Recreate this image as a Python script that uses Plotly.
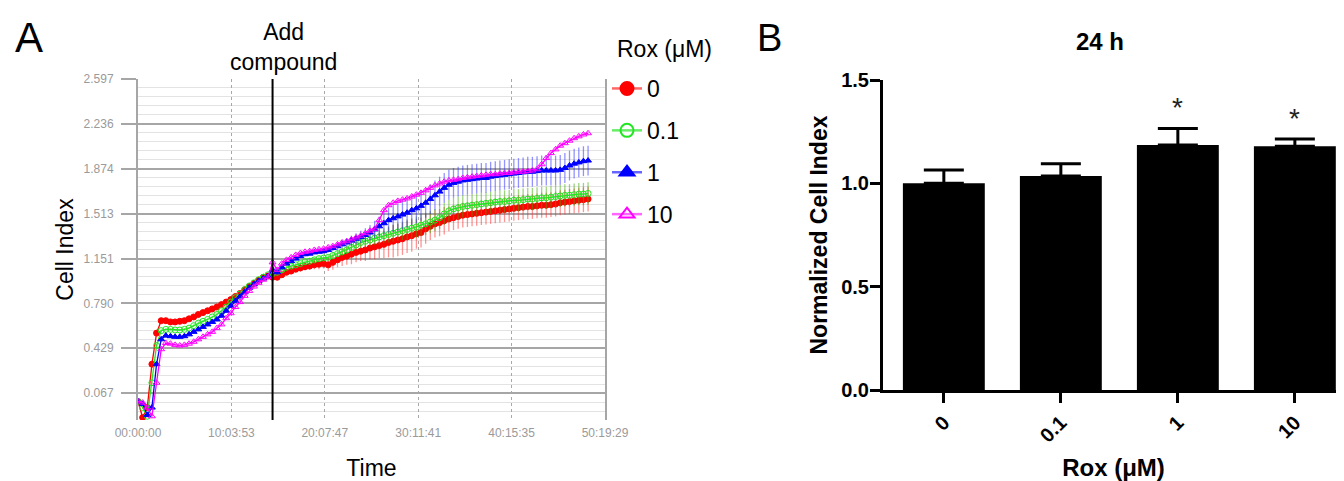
import plotly.graph_objects as go

# ---------------- Panel A data (real-time cell index) ----------------
TIME_H = [0.0, 0.5, 1.0, 1.5, 2.0, 2.5, 3.0, 3.5, 4.0, 4.5,
          5.0, 5.5, 6.0, 6.5, 7.0, 7.5, 8.0, 8.5, 9.0, 9.5,
          10.0, 10.5, 11.0, 11.5, 12.0, 12.5, 13.0, 13.5, 14.0, 14.5,
          15.0, 15.5, 16.0, 16.5, 17.0, 17.5, 18.0, 18.5, 19.0, 19.5,
          20.0, 20.5, 21.0, 21.5, 22.0, 22.5, 23.0, 23.5, 24.0, 24.5,
          25.0, 25.5, 26.0, 26.5, 27.0, 27.5, 28.0, 28.5, 29.0, 29.5,
          30.0, 30.5, 31.0, 31.5, 32.0, 32.5, 33.0, 33.5, 34.0, 34.5,
          35.0, 35.5, 36.0, 36.5, 37.0, 37.5, 38.0, 38.5, 39.0, 39.5,
          40.0, 40.5, 41.0, 41.5, 42.0, 42.5, 43.0, 43.5, 44.0, 44.5,
          45.0, 45.5, 46.0, 46.5, 47.0, 47.5, 48.0, 48.5]

CI_ROX_0 = [0.00, -0.13, -0.05, 0.30, 0.55, 0.65, 0.65, 0.64, 0.64, 0.645,
            0.65, 0.665, 0.68, 0.70, 0.715, 0.73, 0.745, 0.76, 0.78, 0.80,
            0.82, 0.845, 0.87, 0.90, 0.925, 0.95, 0.975, 1.00, 1.01, 1.00,
            1.00, 1.02, 1.04, 1.05, 1.065, 1.075, 1.085, 1.09, 1.10, 1.105,
            1.11, 1.10, 1.12, 1.14, 1.16, 1.17, 1.185, 1.20, 1.21, 1.22,
            1.235, 1.245, 1.255, 1.265, 1.28, 1.29, 1.30, 1.31, 1.325, 1.335,
            1.35, 1.36, 1.39, 1.41, 1.43, 1.44, 1.455, 1.47, 1.48, 1.49,
            1.50, 1.505, 1.51, 1.515, 1.52, 1.525, 1.53, 1.535, 1.54, 1.545,
            1.55, 1.555, 1.56, 1.565, 1.57, 1.57, 1.575, 1.58, 1.58, 1.585,
            1.59, 1.60, 1.605, 1.61, 1.615, 1.62, 1.625, 1.63]

CI_ROX_01 = [0.00, -0.05, -0.12, 0.15, 0.45, 0.57, 0.58, 0.58, 0.575, 0.575,
             0.58, 0.59, 0.61, 0.63, 0.645, 0.66, 0.68, 0.70, 0.73, 0.76,
             0.80, 0.835, 0.865, 0.90, 0.93, 0.955, 0.98, 1.00, 1.02, 1.03,
             1.04, 1.06, 1.08, 1.09, 1.10, 1.11, 1.125, 1.13, 1.14, 1.15,
             1.155, 1.16, 1.175, 1.19, 1.205, 1.22, 1.24, 1.26, 1.28, 1.29,
             1.30, 1.315, 1.325, 1.335, 1.345, 1.355, 1.365, 1.375, 1.385, 1.395,
             1.405, 1.42, 1.43, 1.445, 1.46, 1.48, 1.51, 1.535, 1.55, 1.56,
             1.57, 1.575, 1.58, 1.585, 1.59, 1.595, 1.60, 1.605, 1.61, 1.61,
             1.615, 1.62, 1.62, 1.625, 1.63, 1.63, 1.635, 1.64, 1.64, 1.645,
             1.65, 1.655, 1.66, 1.66, 1.665, 1.67, 1.67, 1.675]

CI_ROX_1 = [0.00, -0.02, -0.11, -0.05, 0.30, 0.50, 0.53, 0.525, 0.52, 0.52,
            0.525, 0.54, 0.56, 0.58, 0.60, 0.62, 0.64, 0.66, 0.69, 0.73,
            0.77, 0.81, 0.845, 0.88, 0.915, 0.945, 0.97, 0.99, 1.01, 1.06,
            1.04, 1.08, 1.11, 1.13, 1.15, 1.17, 1.185, 1.19, 1.20, 1.205,
            1.21, 1.22, 1.235, 1.25, 1.265, 1.28, 1.295, 1.31, 1.325, 1.34,
            1.36, 1.385, 1.41, 1.435, 1.46, 1.475, 1.49, 1.505, 1.52, 1.54,
            1.555, 1.575, 1.60, 1.63, 1.66, 1.69, 1.72, 1.745, 1.76, 1.77,
            1.78, 1.785, 1.79, 1.795, 1.80, 1.80, 1.81, 1.815, 1.82, 1.825,
            1.83, 1.835, 1.84, 1.845, 1.85, 1.85, 1.855, 1.86, 1.86, 1.86,
            1.86, 1.865, 1.88, 1.90, 1.915, 1.925, 1.935, 1.94]

CI_ROX_10 = [0.00, -0.01, -0.05, -0.12, 0.15, 0.42, 0.47, 0.465, 0.455, 0.45,
             0.455, 0.465, 0.48, 0.50, 0.52, 0.54, 0.56, 0.59, 0.62, 0.67,
             0.71, 0.76, 0.80, 0.85, 0.89, 0.925, 0.955, 0.98, 1.00, 1.12,
             1.06, 1.11, 1.14, 1.16, 1.18, 1.195, 1.205, 1.21, 1.22, 1.225,
             1.23, 1.24, 1.25, 1.265, 1.28, 1.29, 1.305, 1.32, 1.335, 1.355,
             1.375, 1.39, 1.46, 1.54, 1.58, 1.60, 1.615, 1.625, 1.635, 1.65,
             1.665, 1.68, 1.70, 1.72, 1.74, 1.755, 1.77, 1.78, 1.785, 1.79,
             1.80, 1.805, 1.81, 1.815, 1.82, 1.825, 1.83, 1.83, 1.835, 1.84,
             1.84, 1.845, 1.85, 1.85, 1.855, 1.86, 1.87, 1.91, 1.96, 2.00,
             2.03, 2.06, 2.08, 2.10, 2.12, 2.135, 2.15, 2.16]

SD_ROX_0 = [0.01, 0.01, 0.01, 0.01, 0.01, 0.01, 0.01, 0.01, 0.01, 0.01,
            0.01, 0.01, 0.01, 0.01, 0.01, 0.01, 0.01, 0.01, 0.01, 0.01,
            0.01, 0.01, 0.01, 0.01, 0.01, 0.01, 0.01, 0.015, 0.015, 0.02,
            0.02, 0.02, 0.02, 0.025, 0.025, 0.03, 0.03, 0.03, 0.035, 0.04,
            0.04, 0.05, 0.06, 0.06, 0.07, 0.07, 0.08, 0.08, 0.08, 0.09,
            0.09, 0.10, 0.10, 0.11, 0.12, 0.13, 0.13, 0.13, 0.13, 0.13,
            0.12, 0.12, 0.12, 0.11, 0.11, 0.11, 0.11, 0.10, 0.10, 0.10,
            0.10, 0.10, 0.10, 0.10, 0.10, 0.10, 0.10, 0.10, 0.10, 0.10,
            0.10, 0.10, 0.10, 0.10, 0.10, 0.10, 0.10, 0.10, 0.10, 0.10,
            0.10, 0.10, 0.10, 0.10, 0.10, 0.10, 0.10, 0.10]

SD_ROX_01 = [0.01, 0.01, 0.01, 0.01, 0.01, 0.01, 0.01, 0.01, 0.01, 0.01,
             0.01, 0.01, 0.01, 0.01, 0.01, 0.01, 0.01, 0.01, 0.01, 0.01,
             0.01, 0.01, 0.01, 0.01, 0.01, 0.01, 0.01, 0.01, 0.01, 0.015,
             0.015, 0.015, 0.015, 0.015, 0.015, 0.015, 0.015, 0.02, 0.02, 0.02,
             0.02, 0.02, 0.025, 0.03, 0.03, 0.035, 0.04, 0.04, 0.045, 0.05,
             0.05, 0.055, 0.06, 0.06, 0.065, 0.07, 0.07, 0.075, 0.08, 0.08,
             0.085, 0.09, 0.09, 0.09, 0.09, 0.09, 0.09, 0.09, 0.09, 0.09,
             0.09, 0.09, 0.09, 0.09, 0.09, 0.09, 0.09, 0.09, 0.09, 0.09,
             0.09, 0.09, 0.09, 0.09, 0.09, 0.09, 0.09, 0.09, 0.09, 0.09,
             0.09, 0.09, 0.09, 0.09, 0.09, 0.09, 0.09, 0.09]

SD_ROX_1 = [0.015, 0.015, 0.015, 0.015, 0.015, 0.015, 0.015, 0.015, 0.015, 0.015,
            0.015, 0.015, 0.015, 0.015, 0.015, 0.015, 0.015, 0.015, 0.015, 0.015,
            0.015, 0.015, 0.015, 0.015, 0.015, 0.015, 0.015, 0.015, 0.015, 0.015,
            0.015, 0.015, 0.015, 0.015, 0.015, 0.015, 0.015, 0.015, 0.015, 0.015,
            0.02, 0.02, 0.025, 0.03, 0.03, 0.035, 0.04, 0.045, 0.05, 0.055,
            0.06, 0.07, 0.08, 0.09, 0.10, 0.11, 0.12, 0.12, 0.12, 0.12,
            0.12, 0.12, 0.12, 0.12, 0.12, 0.12, 0.12, 0.12, 0.12, 0.12,
            0.12, 0.12, 0.12, 0.12, 0.12, 0.12, 0.12, 0.12, 0.12, 0.12,
            0.12, 0.12, 0.12, 0.12, 0.12, 0.12, 0.12, 0.12, 0.12, 0.12,
            0.12, 0.12, 0.12, 0.12, 0.12, 0.12, 0.12, 0.12]

SD_ROX_10 = [0.015, 0.015, 0.015, 0.015, 0.015, 0.015, 0.015, 0.015, 0.015, 0.015,
             0.015, 0.015, 0.015, 0.015, 0.015, 0.015, 0.015, 0.015, 0.015, 0.015,
             0.015, 0.015, 0.015, 0.015, 0.015, 0.015, 0.015, 0.015, 0.015, 0.015,
             0.015, 0.015, 0.015, 0.015, 0.015, 0.015, 0.015, 0.015, 0.015, 0.015,
             0.015, 0.015, 0.015, 0.015, 0.015, 0.015, 0.015, 0.015, 0.015, 0.015,
             0.015, 0.015, 0.015, 0.015, 0.015, 0.015, 0.015, 0.015, 0.015, 0.015,
             0.015, 0.015, 0.015, 0.015, 0.015, 0.015, 0.015, 0.015, 0.015, 0.015,
             0.015, 0.015, 0.015, 0.015, 0.015, 0.015, 0.015, 0.015, 0.015, 0.015,
             0.015, 0.015, 0.015, 0.015, 0.015, 0.015, 0.015, 0.015, 0.015, 0.015,
             0.015, 0.015, 0.015, 0.015, 0.015, 0.015, 0.015, 0.015]

SERIES_NAMES = ["0", "0.1", "1", "10"]
ADD_COMPOUND_H = 14.5

X_TICK_VALS = [0.0, 10.06472, 20.12972, 30.19472, 40.25972, 50.32472]
X_TICK_TEXT = ["00:00:00", "10:03:53", "20:07:47", "30:11:41", "40:15:35", "50:19:29"]
Y_TICK_VALS = [0.067, 0.429, 0.790, 1.151, 1.513, 1.874, 2.236, 2.597]
Y_TICK_TEXT = ["0.067", "0.429", "0.790", "1.151", "1.513", "1.874", "2.236", "2.597"]

# ---------------- Panel B data (24 h normalized cell index) ----------------
ROX_LABELS = ["0", "0.1", "1", "10"]
NCI_24H = [1.00, 1.035, 1.185, 1.18]
NCI_24H_SEM = [0.065, 0.06, 0.08, 0.035]
SIGNIFICANT = [False, False, True, True]

# ---------------- styling ----------------
# The page body has an 8 px margin, so the figure is 8 px smaller and all
# layout positions (given in page pixels) are shifted by that offset.
OFF = 8
W, H = 1344 - OFF, 481 - OFF
FONT = "Liberation Sans, Arial, sans-serif"
COLORS = ["#ff0000", "#22e622", "#0000ff", "#ff00ff"]
ERR_COLORS = ["rgba(255,40,40,0.5)", "rgba(60,170,0,0.5)",
              "rgba(40,40,255,0.5)", "rgba(255,0,255,0.4)"]
LEG_LINE = ["rgba(255,0,0,0.6)", "rgba(40,230,40,0.7)",
            "rgba(0,0,255,0.6)", "rgba(255,0,255,0.6)"]
SYMBOLS = ["circle", "circle-open", "triangle-up", "triangle-up-open"]


def px_x(p):
    return (p - OFF) / W


def px_y(p):
    return 1 - (p - OFF) / H


fig = go.Figure()

series = [CI_ROX_0, CI_ROX_01, CI_ROX_1, CI_ROX_10]
errs = [SD_ROX_0, SD_ROX_01, SD_ROX_1, SD_ROX_10]
for i, (name, ys, es) in enumerate(zip(SERIES_NAMES, series, errs)):
    fig.add_trace(go.Scatter(
        x=TIME_H, y=ys, mode="lines+markers", name=name, showlegend=False,
        line=dict(color=COLORS[i], width=1.3),
        marker=dict(symbol=SYMBOLS[i], size=6, color=COLORS[i],
                    line=dict(color=COLORS[i], width=1)),
        error_y=dict(type="data", array=es, color=ERR_COLORS[i],
                     thickness=1.3, width=0),
        xaxis="x", yaxis="y"))

# legend entries (larger symbols, as in the original key)
for i, name in enumerate(SERIES_NAMES):
    fig.add_trace(go.Scatter(
        x=[None], y=[None], mode="lines+markers", name=name,
        legendgroup="g" + name,
        line=dict(color=LEG_LINE[i], width=2.5),
        marker=dict(symbol=SYMBOLS[i], size=13, color=COLORS[i],
                    line=dict(color=COLORS[i], width=2)),
        xaxis="x", yaxis="y"))

# panel B bars
fig.add_trace(go.Bar(
    x=ROX_LABELS, y=NCI_24H, width=0.7, showlegend=False,
    marker=dict(color="black", line=dict(width=0)),
    error_y=dict(type="data", symmetric=False, array=NCI_24H_SEM,
                 arrayminus=[0] * len(NCI_24H_SEM),
                 color="black", thickness=3, width=20),
    xaxis="x2", yaxis="y2"))

# minor gridlines: 5 subdivisions per major step
minor_vals = []
step = (Y_TICK_VALS[-1] - Y_TICK_VALS[0]) / (len(Y_TICK_VALS) - 1) / 5
v = Y_TICK_VALS[0] - 2 * step
while v < Y_TICK_VALS[-1]:
    minor_vals.append(round(v, 4))
    v += step


def label(text, x, y, size, bold=False):
    return dict(text=f"<b>{text}</b>" if bold else text, x=px_x(x), y=px_y(y),
                xref="paper", yref="paper", xanchor="center", yanchor="middle",
                showarrow=False, font=dict(family=FONT, size=size, color="black"))


annotations = [
    label("A", 29, 37, 42),
    label("B", 769, 38, 38),
    label("Add<br>compound", 283, 47, 23),
    label("24 h", 1100, 41, 24, bold=True),
    label("Rox (μM)", 664, 49, 23),
]
for idx, (val, err, sig) in enumerate(zip(NCI_24H, NCI_24H_SEM, SIGNIFICANT)):
    if sig:
        annotations.append(dict(text="*", x=idx, y=val + err + 0.10, xref="x2", yref="y2",
                                showarrow=False, xanchor="center", yanchor="middle",
                                font=dict(family=FONT, size=28, color="#222")))

fig.update_layout(
    width=W, height=H, margin=dict(l=0, r=0, t=0, b=0, autoexpand=False),
    paper_bgcolor="white", plot_bgcolor="white",
    font=dict(family=FONT, color="black"),
    showlegend=True,
    legend=dict(x=px_x(607), y=px_y(67), xanchor="left", yanchor="top",
                font=dict(family=FONT, size=23, color="black"),
                tracegroupgap=9, bgcolor="rgba(0,0,0,0)"),
    xaxis=dict(domain=[px_x(138), px_x(605)], range=[0, X_TICK_VALS[-1]],
               tickmode="array", tickvals=X_TICK_VALS, ticktext=X_TICK_TEXT,
               tickfont=dict(family=FONT, size=12, color="#9a9a9a"),
               showgrid=True, gridcolor="#a8a8a8", griddash="dot", gridwidth=1,
               zeroline=False, showline=False, ticks="", automargin=False,
               ticklabelstandoff=4,
               title=dict(text="Time", font=dict(family=FONT, size=23), standoff=22),
               anchor="y"),
    yaxis=dict(domain=[px_y(420), px_y(79)], range=[-0.15, Y_TICK_VALS[-1]],
               tickmode="array", tickvals=Y_TICK_VALS, ticktext=Y_TICK_TEXT,
               tickfont=dict(family=FONT, size=12, color="#9a9a9a"),
               showgrid=True, gridcolor="#a6a6a6", gridwidth=1.5,
               minor=dict(tickmode="array", tickvals=minor_vals, showgrid=True,
                          gridcolor="#e3e3e3", gridwidth=1, ticks=""),
               zeroline=False, showline=True, linecolor="#a6a6a6", linewidth=2,
               mirror=True, ticks="outside", ticklen=15, tickcolor="#a6a6a6",
               tickwidth=1.5, ticklabelstandoff=5, automargin=False,
               title=dict(text="Cell Index", font=dict(family=FONT, size=23), standoff=4),
               anchor="x"),
    xaxis2=dict(domain=[px_x(883), 1.0], type="category", range=[-0.52, 3.42],
                showline=True, linecolor="black", linewidth=3,
                ticks="outside", ticklen=10, tickwidth=3, tickcolor="black",
                tickangle=-45, showgrid=False, zeroline=False, automargin=False,
                tickfont=dict(family=FONT, size=20, color="black", weight="bold"),
                title=dict(text="<b>Rox (μM)</b>", font=dict(family=FONT, size=24), standoff=16),
                anchor="y2"),
    yaxis2=dict(domain=[px_y(390), px_y(80)], range=[0, 1.5], dtick=0.5, tickformat=".1f",
                showline=True, linecolor="black", linewidth=3,
                ticks="outside", ticklen=10, tickwidth=3, tickcolor="black",
                showgrid=False, zeroline=False, automargin=False, ticklabelstandoff=-3,
                tickfont=dict(family=FONT, size=20, color="black", weight="bold"),
                title=dict(text="<b>Normalized Cell Index</b>", font=dict(family=FONT, size=23),
                           standoff=8),
                anchor="x2"),
    shapes=[dict(type="line", xref="x", yref="y domain", x0=ADD_COMPOUND_H, x1=ADD_COMPOUND_H,
                 y0=0, y1=1, line=dict(color="black", width=2))],
    annotations=annotations,
)

fig.write_html("out.html")
